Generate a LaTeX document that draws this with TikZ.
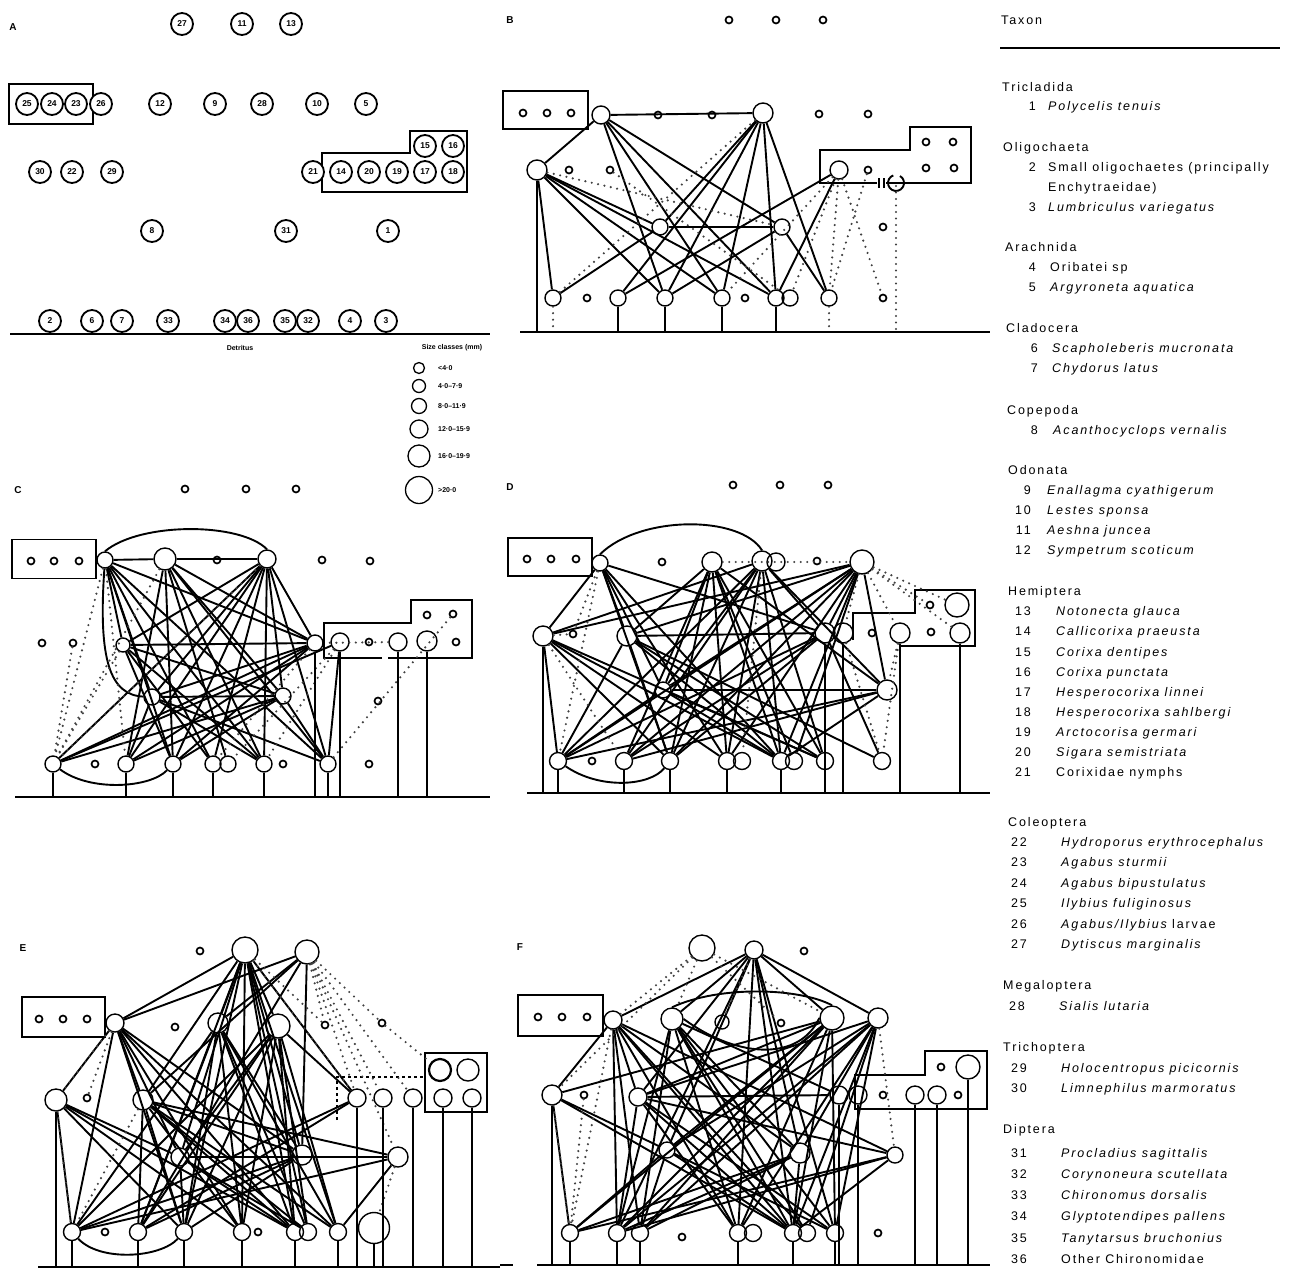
\documentclass[tikz,border=0pt]{standalone}
\usepackage{fontspec}
\setmainfont{Liberation Sans}
\newfontfamily\legfont[LetterSpace=15]{Liberation Sans}
\usetikzlibrary{calc}
\tikzset{
 num/.style={circle,draw,line width=1.8pt,inner sep=0pt,minimum size=22pt,font=\fontsize{8.5}{8.5}\selectfont\bfseries},
 sp/.style={circle,draw,line width=1.4pt,inner sep=0pt,minimum size=17pt},
 sm/.style={circle,draw,line width=1.7pt,inner sep=0pt,minimum size=7pt},
 fe/.style={line width=1.9pt},
 fd/.style={line width=2.4pt,dash pattern=on 0pt off 6.5pt,line cap=round,black!75},
 bx/.style={draw,line width=1.7pt,inner sep=0pt},
 baseln/.style={line width=2.4pt},
 plab/.style={font=\fontsize{10}{10}\selectfont\bfseries},
 sizel/.style={anchor=west,inner sep=0pt,font=\fontsize{7}{7}\selectfont\bfseries},
 leg/.style={anchor=base west,inner sep=0pt,font=\legfont\fontsize{12.5}{14}\selectfont},
}
\newcommand\fan[2]{\foreach \t in {#2}{\draw[fe] (#1) -- (\t);}}
\newcommand\dfan[2]{\foreach \t in {#2}{\draw[fd] (#1) -- (\t);}}
\newcommand\drop[2]{\foreach \n in {#2}{\draw[fe] (\n) -- (\n |- #1);}}
\newcommand\ddrop[2]{\foreach \n in {#2}{\draw[fd] (\n) -- (\n |- #1);}}
\newcommand\ent[6]{\node[leg,anchor=base east] (#1n) at (#2,#3) {#4};\node[leg] (#1t) at (#5,#3) {#6};}
\begin{document}
\begin{tikzpicture}[x=1pt,y=-1pt]
\useasboundingbox (0,0) rectangle (1295,1269);
% ================= PANEL A =================
\node[plab] (labA) at (13,27) {A};
\node[bx,minimum width=84pt,minimum height=40pt] (Abox) at (51,104) {};
\draw[bx] (322,192) -- (322,153) -- (410,153) -- (410,131) -- (467,131) -- (467,192) -- cycle;
\foreach \n/\x/\y in {27/182/24, 11/242/24, 13/291/24, 25/27/104, 24/52/104, 23/76/104, 26/101/104, 12/160/104, 9/215/104, 28/262/104, 10/317/104, 5/366/104, 15/425/146, 16/453/146, 30/40/172, 22/72/172, 29/112/172, 21/313/172, 14/341/172, 20/369/172, 19/397/172, 17/425/172, 18/453/172, 8/152/231, 31/286/231, 1/388/231, 2/50/321, 6/92/321, 7/122/321, 33/168/321, 34/225/321, 36/248/321, 35/285/321, 32/308/321, 4/350/321, 3/386/321}
  \node[num,fill=white] (A\n) at (\x,\y) {\n};
\coordinate (AbL) at (10,334); \coordinate (AbR) at (490,334);
\draw[baseln] (AbL) -- (AbR);
\node[font=\fontsize{7}{7}\selectfont\bfseries] (Adet) at (240,348) {Detritus};
\node[font=\fontsize{7}{7}\selectfont\bfseries] (Asize) at (452,348) {Size classes (mm)};
\foreach \y/\d/\t [count=\i] in {368/11/{<4·0}, 386/13/{4·0–7·9}, 406/15/{8·0–11·9}, 429/18/{12·0–15·9}, 456/22/{16·0–19·9}, 490/27/{>20·0}}{
  \node[circle,draw,line width=1.3pt,inner sep=0pt,minimum size=\d pt] (Sz\i) at (419,\y) {};
  \node[sizel] (Szl\i) at (438,\y) {\t};
}
% ================= PANEL B =================
\node[plab] (labB) at (510,20) {B};
\node[bx,minimum width=85pt,minimum height=38pt] (Bbox) at (545.5,110) {};
\draw[bx] (877,183) -- (820,183) -- (820,150) -- (910,150) -- (910,127) -- (971,127) -- (971,183) -- (886,183);
\draw[line width=1.4pt] (879,178) -- (879,188) (884,178) -- (884,188);
\foreach \x/\y [count=\i] in {729/20,776/20,823/20,523/113,547/113,571/113,658/115,712/115,819/114,868/114,569/170,610/170,868/170,926/142,953/142,926/168,954/168,883/227,587/298,745/298,883/298}
  \node[sm] (Bs\i) at (\x,\y) {};
\node[sp,minimum size=18pt] (Ba) at (601,115) {};
\node[sp,minimum size=20pt] (Bb) at (763,113) {};
\node[sp,minimum size=20pt] (Bc) at (537,170) {};
\node[sp,minimum size=16pt] (Bd) at (660,227) {};
\node[sp,minimum size=16pt] (Be) at (782,227) {};
\node[sp,minimum size=18pt] (Bf) at (839,170) {};
\foreach \n/\x in {1/553,2/618,3/665,4/722,5/776,6/790,7/829}
  \node[sp,minimum size=16pt] (B\n) at (\x,298) {};
\draw[fe] (900,176) arc (-60:250:8);
\coordinate (Bbase) at (0,332);
\coordinate (BbL) at (520,332); \coordinate (BbR) at (990,332);
\draw[baseln] (BbL) -- (BbR);
\coordinate (Bx1) at (896,186); \coordinate (Bx2) at (846,200);
\draw[fe] (Ba) -- (Bb);
\fan{Ba}{Bc,B3,B4,B5,Be}
\fan{Bc}{B1,B3,B4,B5,Bd}
\fan{Bb}{B2,B3,B4,B5,B7,Bd}
\fan{Bd}{B1,Be}
\fan{Bf}{B5,B2}
\fan{Be}{B7,B3}
\dfan{Bc}{Be}
\dfan{Bb}{B1}
\dfan{Bf}{B4,B6,B7,Bs21}
\dfan{Bs12}{B6}
\dfan{Bs13}{B7}
\drop{Bbase}{Bc,B2,B3,B4,B5}
\ddrop{Bbase}{B1,B7,Bx1}
% ================= PANEL C =================
\node[plab] (labC) at (18,490) {C};
\node[bx,minimum width=84pt,minimum height=39pt] (Cbox) at (54,559) {};
\draw[bx] (382,658) -- (324,658) -- (324,623) -- (411,623) -- (411,600) -- (472,600) -- (472,658) -- (388,658);
\foreach \x/\y [count=\i] in {185/489,246/489,296/489,31/561,54/561,79/561,217/560,322/560,370/561,369/642,456/642,427/615,453/614,42/643,73/643,378/701,95/764,283/764,369/764}
  \node[sm] (Cs\i) at (\x,\y) {};
\node[sp,minimum size=16pt] (Ca) at (105,560) {};
\node[sp,minimum size=22pt] (Cb) at (165,559) {};
\node[sp,minimum size=18pt] (Cc) at (267,559) {};
\node[sp,minimum size=14pt] (Cd) at (123,645) {};
\node[sp,minimum size=16pt] (Ce) at (315,643) {};
\node[sp,minimum size=18pt] (Cf) at (340,642) {};
\node[sp,minimum size=18pt] (Cg) at (398,642) {};
\node[sp,minimum size=20pt] (Ch) at (427,641) {};
\node[sp,minimum size=16pt] (Ci) at (152,697) {};
\node[sp,minimum size=16pt] (Cj) at (283,696) {};
\foreach \n/\x in {1/53,2/126,3/173,4/213,5/228,6/264,7/328}
  \node[sp,minimum size=16pt] (C\n) at (\x,764) {};
\coordinate (Cbase) at (0,797);
\coordinate (CbL) at (15,797); \coordinate (CbR) at (490,797);
\draw[baseln] (CbL) -- (CbR);
\draw[fe] (Ca) -- (Cb); \draw[fe] (Cb) -- (Cc);
\draw[fe] (Ca.north) .. controls (140,522) and (240,522) .. (Cc.north);
\fan{Ca}{Cd,Ci,C3,C4,C6,C7,Ce}
\fan{Cb}{C2,C3,C5,C6,Cj,Ce,C7}
\fan{Cc}{Cd,C1,C2,C3,C4,C6,Ci,Cj,Ce,C7}
\draw[fe] (Cd) -- (Ce);
\fan{Cd}{C3,C4,C6,Cj}
\fan{Ce}{C1,C2,C3,Ci}
\draw[fe] (Ci) -- (Cj);
\fan{Ci}{C2,C6,C7}
\fan{Cj}{C1,C2,C3,C7}
\fan{Cf}{C1,C7}
\draw[fe] (C1) .. controls (90,792) and (150,788) .. (C3);
\draw[fe] (Ca) .. controls (98,660) and (110,695) .. (Ci);
\dfan{Cc}{C1}
\dfan{Cd}{C1}
\dfan{Ca}{C1,C2}
\dfan{Cs15}{C1}
\dfan{Ce}{C4}
\dfan{Cf}{C6,C5}
\dfan{Cb}{C1}
\dfan{Cs13}{C7}
\dfan{Cg}{Ce}
\drop{Cbase}{C1,C2,C3,C4,C6,C7,Ce,Cf,Cg,Ch}
% ================= PANEL D =================
\node[plab] (labD) at (510,487) {D};
\node[bx,minimum width=84pt,minimum height=38pt] (Dbox) at (550,557) {};
\draw[bx] (853,640) -- (853,613) -- (915,613) -- (915,590) -- (975,590) -- (975,646) -- (900,646);
\foreach \x/\y [count=\i] in {733/485,780/485,828/485,527/559,551/559,576/559,662/562,817/561,930/605,931/632,573/634,872/633,592/761}
  \node[sm] (Ds\i) at (\x,\y) {};
\node[sp,minimum size=16pt] (Da) at (600,563) {};
\node[sp,minimum size=20pt] (Db) at (712,562) {};
\node[sp,minimum size=20pt] (Dc) at (762,561) {};
\node[sp,minimum size=18pt] (Dc2) at (776,562) {};
\node[sp,minimum size=24pt] (Dd) at (862,562) {};
\node[sp,minimum size=24pt] (Dbig) at (957,605) {};
\node[sp,minimum size=20pt] (Dk) at (900,633) {};
\node[sp,minimum size=20pt] (Dl) at (960,633) {};
\node[sp,minimum size=20pt] (De) at (543,636) {};
\node[sp,minimum size=20pt] (Df) at (627,636) {};
\node[sp,minimum size=20pt] (Dg) at (825,633) {};
\node[sp,minimum size=20pt] (Dh) at (843,633) {};
\node[sp,minimum size=16pt] (Di) at (663,690) {};
\node[sp,minimum size=20pt] (Dj) at (887,690) {};
\foreach \n/\x in {1/558,2/624,3/670,4/727,5/742,6/781,7/794,8/825,9/882}
  \node[sp,minimum size=17pt] (D\n) at (\x,761) {};
\coordinate (Dbase) at (0,793);
\coordinate (DbL) at (527,793); \coordinate (DbR) at (990,793);
\draw[baseln] (DbL) -- (DbR);
\draw[fe] (Da.north) .. controls (640,515) and (740,515) .. (Dc.north);
\fan{Da}{De,Df,Di,D3,D4,D6,Dg}
\fan{Db}{Df,Di,D2,D3,D4,D6,D7,D8,Dj}
\fan{Dc}{De,Di,D1,D2,D3,D4,D6,D8,Dg,Dj}
\fan{Dd}{De,Df,Di,D1,D2,D3,D4,D6,D7,Dg,Dj}
\draw[fe] (Df) -- (Dg);
\fan{De}{D1,D3,D4,D6,D8}
\fan{Df}{D1,D3,D6,D8,D9}
\fan{Dg}{D1,D2,D3,D9}
\fan{Di}{D1,D6,D8,Dj}
\fan{Dj}{D1,D2,D6}
\draw[fe] (D1) .. controls (600,790) and (650,786) .. (D3);
\dfan{Dd}{Dk,Dh,Dbig,Ds9,Dl}
\dfan{Da}{D1,Ds11}
\dfan{De}{D2,Ds11}
\dfan{Dc}{D5}
\dfan{Dh}{D9}
\dfan{Db}{Dd}
\dfan{Dk}{D9,Dj}
\drop{Dbase}{De,D1,D2,D3,D4,D6,D8,Dg,Dh,Dk,Dl}
% ================= PANEL E =================
\node[plab] (labE) at (23,948) {E};
\node[bx,minimum width=83pt,minimum height=40pt] (Ebox) at (63.5,1017) {};
\node[bx,minimum width=62pt,minimum height=59pt] (Ebox2) at (456,1082.5) {};
\draw[bx,dashed] (337,1120) -- (337,1077) -- (425,1077);
\foreach \x/\y [count=\i] in {200/951,39/1019,63/1019,87/1019,175/1027,325/1025,382/1023,87/1098,105/1232,258/1232}
  \node[sm] (Es\i) at (\x,\y) {};
\node[sp,minimum size=26pt] (Ea) at (245,950) {};
\node[sp,minimum size=24pt] (Eb) at (307,952) {};
\node[sp,minimum size=18pt] (Ec) at (115,1023) {};
\node[sp,minimum size=20pt] (Ed) at (218,1023) {};
\node[sp,minimum size=24pt] (Ee) at (278,1026) {};
\node[sp,minimum size=22pt,line width=2.2pt] (Eq) at (440,1070) {};
\node[sp,minimum size=22pt] (Er) at (468,1070) {};
\node[sp,minimum size=22pt] (Ef) at (56,1100) {};
\node[sp,minimum size=20pt] (Eg) at (143,1100) {};
\foreach \n/\x in {h/357,m/383,n/413,o/443,p/472}
  \node[sp,minimum size=18pt] (E\n) at (\x,1098) {};
\node[sp,minimum size=18pt] (Ei) at (180,1157) {};
\node[sp,minimum size=20pt] (Ej) at (302,1155) {};
\node[sp,minimum size=20pt] (Ek) at (398,1157) {};
\foreach \n/\x in {1/72,2/138,3/184,4/242,5/295,6/308,7/338}
  \node[sp,minimum size=17pt] (E\n) at (\x,1232) {};
\node[sp,minimum size=31pt] (E8) at (374,1228) {};
\coordinate (Ebase) at (0,1267);
\coordinate (EbL) at (38,1267); \coordinate (EbR) at (500,1267);
\draw[baseln] (EbL) -- (EbR);
\fan{Ea}{Ec,Ed,Ee,Eg,Ei,Ej,E2,E3,E4,E5,E6,E7,Eh}
\fan{Eb}{Ec,Ed,Eg,Ej,E2}
\fan{Ec}{Ef,Eg,E1,E3,E4,E5,Ei,Ej,E7}
\fan{Ed}{E1,E2,E3,E4,E5,E6,E7,Ej}
\fan{Ee}{E1,E2,E3,E4,E5,E6,Ei,Eh,E7}
\fan{Ef}{E1,E3,E4,E5,Ei}
\fan{Eg}{E2,E3,E4,E5,E6,E7,Ej,Ek}
\fan{Ei}{E3,E5,E6,Ek}
\fan{Ej}{E1,E2,E3}
\fan{Ek}{E1,E7}
\fan{Eh}{E1,E2}
\draw[fe] (E1) .. controls (100,1262) and (160,1258) .. (E3);
\dfan{Eb}{Eh,Ek,Em,En,Es6,Es7}
\dfan{Es7}{Eq}
\dfan{Ea}{Eh,Es6}
\dfan{Ef}{E1}
\dfan{Eg}{E1}
\dfan{Ec}{Ef,Es8}
\dfan{Ek}{E8}
\drop{Ebase}{Ef,E1,E2,E3,E4,E5,E7,E8,Eh,Em,En,Eo,Ep}
% ================= PANEL F =================
\node[plab] (labF) at (520,947) {F};
\node[bx,minimum width=85pt,minimum height=41pt] (Fbox) at (560.5,1015.5) {};
\draw[bx] (855,1109) -- (855,1075) -- (925,1075) -- (925,1051) -- (987,1051) -- (987,1109) -- cycle;
\foreach \x/\y [count=\i] in {804/951,538/1017,562/1017,587/1017,781/1023,941/1067,883/1095,958/1095,584/1095,682/1237,878/1233}
  \node[sm] (Fs\i) at (\x,\y) {};
\node[sp,minimum size=26pt] (Fa) at (702,948) {};
\node[sp,minimum size=18pt] (Fb) at (754,950) {};
\node[sp,minimum size=18pt] (Fc) at (613,1020) {};
\node[sp,minimum size=22pt] (Fd) at (672,1019) {};
\node[sp,minimum size=14pt] (Fe) at (722,1022) {};
\node[sp,minimum size=24pt] (Ff) at (832,1018) {};
\node[sp,minimum size=20pt] (Fg) at (878,1018) {};
\node[sp,minimum size=24pt] (Fn) at (968,1067) {};
\foreach \n/\x in {j/839,k/858,l/915,m/937}
  \node[sp,minimum size=18pt] (F\n) at (\x,1095) {};
\node[sp,minimum size=20pt] (Fh) at (552,1095) {};
\node[sp,minimum size=18pt] (Fi) at (638,1097) {};
\node[sp,minimum size=16pt] (Fq) at (667,1150) {};
\node[sp,minimum size=20pt] (Fo) at (800,1153) {};
\node[sp,minimum size=16pt] (Fp) at (895,1155) {};
\foreach \n/\x in {1/570,2/617,3/640,4/738,5/753,6/793,7/807,8/835}
  \node[sp,minimum size=17pt] (F\n) at (\x,1233) {};
\coordinate (Fbase) at (0,1265);
\coordinate (FbL) at (537,1265); \coordinate (FbR) at (990,1265);
\draw[baseln] (FbL) -- (FbR);
\coordinate (FsL) at (500,1265); \coordinate (FsR) at (513,1265);
\draw[baseln] (FsL) -- (FsR);
\fan{Fb}{Fc,Fd,Ff,Fg,Fi,Fq,Fo,F2,F4,F6,F8}
\fan{Fc}{Fh,Fi,F2,F3,F4,F6,F7,Fo,Fp}
\fan{Fd}{F2,F3,F4,F6,F7,F8,Fo,Fj}
\fan{Ff}{F1,F2,F3,F4,F6,F8,Fi,Fq,Fh}
\fan{Fg}{F2,F3,F4,F6,F7,F8,Fi,Fq,Fo}
\fan{Fh}{F1,F6,Fq}
\fan{Fi}{F2,F4,F6,F8,Fj,Fp}
\fan{Fq}{F1,F3,F6,F8}
\fan{Fo}{F1,F2,F3,F6}
\fan{Fp}{F1,F2,F6}
\draw[fe] (Fd.north) .. controls (720,985) and (800,988) .. (Ff.north);
\draw[fe] (Fd.east) .. controls (740,1060) and (800,1060) .. (Ff.west);
\dfan{Fa}{Fc,Ff,Fh,Fd,Fs5}
\dfan{Fh}{F1}
\dfan{Fb}{Fe}
\dfan{Fc}{F1}
\dfan{Fs9}{F1}
\dfan{Fg}{Fp}
\drop{Fbase}{Fh,F1,F2,F3,F4,F6,F8,Fj,Fk,Fl,Fm,Fn}
% ================= LEGEND =================
\node[leg] (Ltax) at (1001,24.5) {Taxon};
\coordinate (LrL) at (1000,48); \coordinate (LrR) at (1280,48);
\draw[line width=1.6pt] (LrL) -- (LrR);
\node[leg] (G1) at (1002,91) {Tricladida};
\ent{L1}{1036}{110.5}{1}{1048}{\itshape Polycelis tenuis}
\node[leg] (G2) at (1003,151) {Oligochaeta};
\ent{L2}{1036}{171}{2}{1048}{Small oligochaetes (principally}
\node[leg] (L2b) at (1048,191) {Enchytraeidae)};
\ent{L3}{1036}{211}{3}{1048}{\itshape Lumbriculus variegatus}
\node[leg] (G3) at (1005,251) {Arachnida};
\ent{L4}{1036}{271}{4}{1050}{Oribatei sp}
\ent{L5}{1036}{291}{5}{1050}{\itshape Argyroneta aquatica}
\node[leg] (G4) at (1006,332) {Cladocera};
\ent{L6}{1038}{352}{6}{1052}{\itshape Scapholeberis mucronata}
\ent{L7}{1038}{372}{7}{1052}{\itshape Chydorus latus}
\node[leg] (G5) at (1007,414) {Copepoda};
\ent{L8}{1038}{434}{8}{1053}{\itshape Acanthocyclops vernalis}
\node[leg] (G6) at (1008,474) {Odonata};
\ent{L9}{1031}{494.5}{9}{1047}{\itshape Enallagma cyathigerum}
\ent{L10}{1031}{514.5}{10}{1047}{\itshape Lestes sponsa}
\ent{L11}{1031}{534.5}{11}{1047}{\itshape Aeshna juncea}
\ent{L12}{1031}{554.5}{12}{1047}{\itshape Sympetrum scoticum}
\node[leg] (G7) at (1008,595.5) {Hemiptera};
\ent{L13}{1031}{615.5}{13}{1056}{\itshape Notonecta glauca}
\ent{L14}{1031}{635.5}{14}{1056}{\itshape Callicorixa praeusta}
\ent{L15}{1031}{656}{15}{1056}{\itshape Corixa dentipes}
\ent{L16}{1031}{676}{16}{1056}{\itshape Corixa punctata}
\ent{L17}{1031}{696}{17}{1056}{\itshape Hesperocorixa linnei}
\ent{L18}{1031}{716}{18}{1056}{\itshape Hesperocorixa sahlbergi}
\ent{L19}{1031}{736}{19}{1056}{\itshape Arctocorisa germari}
\ent{L20}{1031}{756}{20}{1056}{\itshape Sigara semistriata}
\ent{L21}{1031}{776}{21}{1056}{Corixidae nymphs}
\node[leg] (G8) at (1008,826.5) {Coleoptera};
\ent{L22}{1027}{846.5}{22}{1061}{\itshape Hydroporus erythrocephalus}
\ent{L23}{1027}{866.5}{23}{1061}{\itshape Agabus sturmii}
\ent{L24}{1027}{887.5}{24}{1061}{\itshape Agabus bipustulatus}
\ent{L25}{1027}{907.5}{25}{1061}{\itshape Ilybius fuliginosus}
\ent{L26}{1027}{928}{26}{1061}{{\itshape Agabus/Ilybius} larvae}
\ent{L27}{1027}{948.5}{27}{1061}{\itshape Dytiscus marginalis}
\node[leg] (G9) at (1003,989.5) {Megaloptera};
\ent{L28}{1025}{1010}{28}{1059}{\itshape Sialis lutaria}
\node[leg] (G10) at (1003,1051.5) {Trichoptera};
\ent{L29}{1027}{1072}{29}{1061}{\itshape Holocentropus picicornis}
\ent{L30}{1027}{1092.5}{30}{1061}{\itshape Limnephilus marmoratus}
\node[leg] (G11) at (1003,1133) {Diptera};
\ent{L31}{1027}{1157}{31}{1061}{\itshape Procladius sagittalis}
\ent{L32}{1027}{1178}{32}{1061}{\itshape Corynoneura scutellata}
\ent{L33}{1027}{1199}{33}{1061}{\itshape Chironomus dorsalis}
\ent{L34}{1027}{1220.5}{34}{1061}{\itshape Glyptotendipes pallens}
\ent{L35}{1027}{1242.5}{35}{1061}{\itshape Tanytarsus bruchonius}
\ent{L36}{1027}{1263.5}{36}{1061}{Other Chironomidae}
\end{tikzpicture}
\end{document}
